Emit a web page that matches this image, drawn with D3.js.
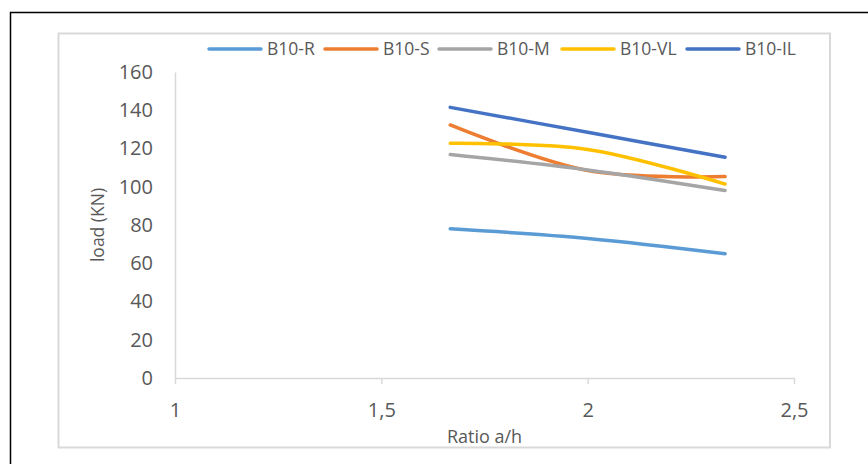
<!DOCTYPE html>
<html>
<head>
<meta charset="utf-8">
<script src="https://cdn.jsdelivr.net/npm/d3@7"></script>
<style>
  html, body { margin: 0; padding: 0; background: #fff; }
  svg { display: block; font-family: "Open Sans", "Noto Sans", sans-serif; }
</style>
</head>
<body>
<svg id="chart" width="868" height="464"></svg>
<script>
// Ratio a/h values and measured load (KN) per beam
const ratios = [1.667, 2, 2.333];
const seriesNames = ["B10-R", "B10-S", "B10-M", "B10-VL", "B10-IL"];
const loadR  = [78, 73, 65];
const loadS  = [132.3, 108.5, 105.3];
const loadM  = [116.9, 108.8, 98];
const loadVL = [122.7, 119.5, 101.4];
const loadIL = [141.5, 128.5, 115.4];
const colors = ["#5B9BD5", "#ED7D31", "#A5A5A5", "#FFC000", "#4472C4"];
const xTicks = [1, 1.5, 2, 2.5];
const yTicks = [0, 20, 40, 60, 80, 100, 120, 140, 160];

const series = [loadR, loadS, loadM, loadVL, loadIL].map((vals, i) => ({
  name: seriesNames[i],
  color: colors[i],
  points: vals.map((v, j) => ({ x: ratios[j], y: v }))
}));

const svg = d3.select("#chart");
const textColor = "#595959";
const axisColor = "#D9D9D9";

// outer frame (left/top edges visible)
svg.append("path")
  .attr("d", "M10.5,470 L10.5,12.5 L875,12.5")
  .attr("fill", "none").attr("stroke", "#000").attr("stroke-width", 1.5);

// chart area border
svg.append("rect")
  .attr("x", 58.5).attr("y", 33.5).attr("width", 771.5).attr("height", 414)
  .attr("fill", "#fff").attr("stroke", axisColor).attr("stroke-width", 2);

const x = d3.scaleLinear().domain([1, 2.5]).range([175, 794]);
const y = d3.scaleLinear().domain([0, 160]).range([378, 72]);

const fmt = d => String(d).replace(".", ",");

// y axis
const yAxis = svg.append("g").attr("transform", `translate(${x(1)},0)`)
  .call(d3.axisLeft(y).tickValues(yTicks).tickSize(0).tickPadding(22).tickFormat(d3.format("d")));
yAxis.select(".domain").attr("stroke", axisColor).attr("stroke-width", 1.5);
yAxis.selectAll("text").attr("fill", textColor).attr("font-size", 20).attr("font-family", "Open Sans");

// x axis
const xAxis = svg.append("g").attr("transform", `translate(0,${y(0)})`)
  .call(d3.axisBottom(x).tickValues(xTicks).tickSizeInner(6).tickSizeOuter(0).tickPadding(19).tickFormat(fmt));
xAxis.select(".domain").attr("stroke", axisColor).attr("stroke-width", 1.5);
xAxis.selectAll(".tick line").attr("stroke", axisColor).attr("stroke-width", 1.5);
xAxis.selectAll("text").attr("fill", textColor).attr("font-size", 20).attr("font-family", "Open Sans");

// axis titles
svg.append("text")
  .attr("transform", `translate(104,${(y(0) + y(160)) / 2}) rotate(-90)`)
  .attr("text-anchor", "middle")
  .attr("fill", textColor).attr("font-size", 17.5)
  .text("load (KN)");

svg.append("text")
  .attr("x", (x(1) + x(2.5)) / 2).attr("y", 442.5)
  .attr("text-anchor", "middle")
  .attr("fill", textColor).attr("font-size", 18)
  .text("Ratio a/h");

// smoothed series lines
const line = d3.line()
  .x(d => x(d.x)).y(d => y(d.y))
  .curve(d3.curveCatmullRom.alpha(0.5));

svg.append("g").selectAll("path")
  .data(series)
  .join("path")
  .attr("d", d => line(d.points))
  .attr("fill", "none")
  .attr("stroke", d => d.color)
  .attr("stroke-width", 3.5)
  .attr("stroke-linecap", "round")
  .attr("stroke-linejoin", "round");

// legend
const legendX = [209, 325, 439, 562, 687];
const legend = svg.append("g").selectAll("g")
  .data(series)
  .join("g")
  .attr("transform", (d, i) => `translate(${legendX[i]},49)`);
legend.append("line")
  .attr("x1", 0).attr("x2", 52).attr("y1", 0).attr("y2", 0)
  .attr("stroke", d => d.color).attr("stroke-width", 3.5).attr("stroke-linecap", "round");
legend.append("text")
  .attr("x", 58).attr("y", 0).attr("dy", "0.35em")
  .attr("fill", textColor).attr("font-size", 17.5)
  .text(d => d.name);
</script>
</body>
</html>
